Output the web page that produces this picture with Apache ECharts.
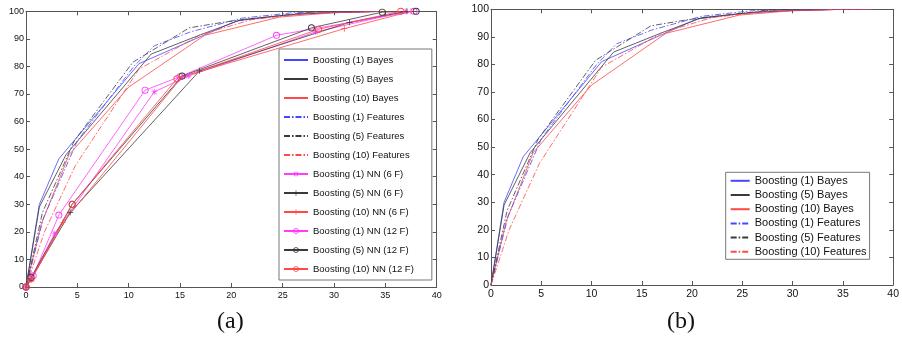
<!DOCTYPE html>
<html><head><meta charset="utf-8">
<script src="https://cdn.jsdelivr.net/npm/echarts@6/dist/echarts.min.js"></script>
<style>html,body{margin:0;padding:0;background:#fff}#c{width:902px;height:343px}</style>
</head><body><div id="c"></div>
<script>
// ---- data: [x, y] pairs ----
const b1Bayes = [[0,0],[1.3,30],[3.2,46.5],[11,81],[16.5,90],[20.5,96.5],[25,98.5],[30,99.6],[35,100],[38,100]];
const b5Bayes = [[0,0],[1.3,29],[3.9,48],[12.2,84.5],[17,91.5],[21,97],[27,99.2],[35,100],[38,100]];
const b10Bayes = [[0,0],[1.5,23],[4.2,48],[10,72.5],[17.4,91.3],[24.7,97.9],[30,99.5],[35,100],[38,100]];
const b1Feat = [[0,0],[1.7,25],[5,53],[10.5,80],[12.5,87.5],[16,92.5],[21,97.5],[26,99.5],[35,100],[38,100]];
const b5Feat = [[0,0],[1.6,27],[4.7,53],[10.4,81.5],[15.9,94],[19.5,96.2],[28,99.8],[35,100],[38,100]];
const b10Feat = [[0,0],[1.8,20],[4.8,44],[11,79],[17,91.5],[22,97],[28,99.5],[35,100],[38,100]];
const b1NN6 = [[0,0],[0.5,3],[2.8,19.4],[12.5,70.8],[15.8,76.5],[28.2,92.5],[37,100]];
const b5NN6 = [[0,0],[0.5,3],[4.3,27],[16.9,78.4],[31.5,96],[37.1,100]];
const b10NN6 = [[0,0],[0.5,2.5],[3.6,23.4],[15.2,76.2],[31,93.7],[37.5,100]];
const b1NN12 = [[0,0],[0.7,4.1],[3.2,26.1],[11.6,71.4],[15,76.3],[24.4,91.3],[37.8,100]];
const b5NN12 = [[0,0],[0.5,3.5],[4.5,30],[15.2,76.5],[27.8,94],[34.7,99.7],[38,100]];
const b10NN12 = [[0,0],[0.5,3],[4.5,30],[14.7,75.5],[28.5,93.5],[36.5,100]];
const xTicks = {min:0, max:40, interval:5};
const yTicks = {min:0, max:100, interval:10};
const namesBF = ['Boosting (1) Bayes','Boosting (5) Bayes','Boosting (10) Bayes','Boosting (1) Features','Boosting (5) Features','Boosting (10) Features'];
const namesNN = ['Boosting (1) NN (6 F)','Boosting (5) NN (6 F)','Boosting (10) NN (6 F)','Boosting (1) NN (12 F)','Boosting (5) NN (12 F)','Boosting (10) NN (12 F)'];

const BLUE='#4646ff', BLACK='#3a3a3a', RED='#ff4848', MAG='#ff3cff';
const DASHDOT=[6,2,1.5,2];
const PLUS='path://M4.4,0h1.2v4.4h4.4v1.2h-4.4v4.4h-1.2v-4.4h-4.4v-1.2h4.4z';
const STAR='path://M4.5,0h1v10h-1z M0,4.5h10v1h-10z M1,1.7l0.7,-0.7l7.3,7.3l-0.7,0.7z M8.3,1l0.7,0.7l-7.3,7.3l-0.7,-0.7z';
const RING='path://M5,0A5,5 0 1,1 5,10A5,5 0 1,1 5,0Z M5,1.3A3.7,3.7 0 1,0 5,8.7A3.7,3.7 0 1,0 5,1.3Z';

function bfSeries(g){
  const d=[b1Bayes,b5Bayes,b10Bayes,b1Feat,b5Feat,b10Feat];
  const c=[BLUE,BLACK,RED,BLUE,BLACK,RED];
  return d.map((arr,i)=>({
    name:namesBF[i], type:'line', xAxisIndex:g*2, yAxisIndex:g*2, data:arr,
    symbol:'none', animation:false, silent:true,
    lineStyle:{color:c[i], width:0.8, type: i<3?'solid':DASHDOT},
    itemStyle:{color:c[i]}
  }));
}
function nnSeries(){
  const d=[b1NN6,b5NN6,b10NN6,b1NN12,b5NN12,b10NN12];
  const c=[MAG,BLACK,RED,MAG,BLACK,RED];
  return d.map((arr,i)=>{
    const circ=i>=3;
    return {
      name:namesNN[i], type:'line', xAxisIndex:0, yAxisIndex:0, data:arr,
      symbol: circ?RING:(i===0?STAR:PLUS), symbolSize: circ?7:6,
      showAllSymbol:true, animation:false, silent:true,
      lineStyle:{color:c[i], width:0.8},
      itemStyle:{color:c[i], borderWidth:0}
    };
  });
}
function axes(g, fs){
  const line={show:true, onZero:false, lineStyle:{color:'#555', width:1}};
  const tick={show:true, inside:true, length:4, lineStyle:{color:'#555'}};
  const lab={color:'#111', fontSize:fs, fontFamily:'Liberation Sans, Arial, sans-serif'};
  return {
    x:[
      Object.assign({type:'value', gridIndex:g, position:'bottom', axisLine:line, axisTick:tick, splitLine:{show:false}, axisLabel:Object.assign({margin:4},lab)}, xTicks),
      Object.assign({type:'value', gridIndex:g, position:'top', axisLine:line, axisTick:tick, splitLine:{show:false}, axisLabel:{show:false}}, xTicks)
    ],
    y:[
      Object.assign({type:'value', gridIndex:g, position:'left', axisLine:line, axisTick:tick, splitLine:{show:false}, axisLabel:Object.assign({margin:2},lab)}, yTicks),
      Object.assign({type:'value', gridIndex:g, position:'right', axisLine:line, axisTick:tick, splitLine:{show:false}, axisLabel:{show:false}}, yTicks)
    ]
  };
}
const a0=axes(0,9), a1=axes(1,10.5);
const hideSym = n => ({name:n, itemStyle:{opacity:0}});
const chart=echarts.init(document.getElementById('c'),null,{renderer:'canvas'});
chart.setOption({
  animation:false,
  backgroundColor:'#fff',
  grid:[
    {left:26, top:11.3, width:410.7, height:275.7},
    {left:491, top:9.3, width:408.7, height:275.7}
  ],
  xAxis:[...a0.x, ...a1.x],
  yAxis:[...a0.y, ...a1.y],
  legend:[
    {data:[...namesBF.map(hideSym),...namesNN], orient:'vertical', left:279, top:49, padding:[6,18,6,4],
     itemWidth:24, itemHeight:7, itemGap:9, selectedMode:false,
     backgroundColor:'#fff', borderColor:'#777', borderWidth:1, borderRadius:0,
     textStyle:{fontSize:9.5, color:'#111', fontFamily:'Liberation Sans, Arial, sans-serif'}},
    {data:namesBF.map(hideSym), orient:'vertical', left:725.7, top:172.3, padding:[3,3,2,4],
     itemWidth:19, itemHeight:10, itemGap:3.2, selectedMode:false,
     backgroundColor:'#fff', borderColor:'#777', borderWidth:1, borderRadius:0,
     textStyle:{fontSize:11, color:'#111', fontFamily:'Liberation Sans, Arial, sans-serif'}}
  ],
  series:[...bfSeries(0), ...nnSeries(), ...bfSeries(1)],
  graphic:[
    {type:'text', left:217, top:310, style:{text:'(a)', fontSize:24, fontFamily:'Liberation Serif, serif', fill:'#111'}},
    {type:'text', left:667, top:310, style:{text:'(b)', fontSize:24, fontFamily:'Liberation Serif, serif', fill:'#111'}}
  ]
});
</script></body></html>
